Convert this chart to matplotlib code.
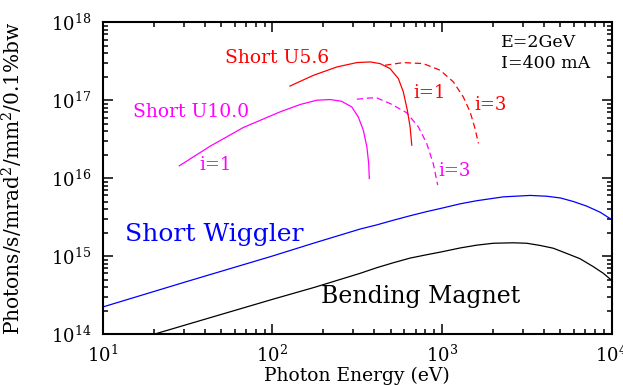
import matplotlib
matplotlib.use("Agg")
import matplotlib.pyplot as plt
from matplotlib.ticker import LogLocator, NullFormatter

plt.rcParams['font.family'] = ['DejaVu Serif']
plt.rcParams['mathtext.fontset'] = 'dejavuserif'

# bending magnet
bm_e = [20.3, 44.7, 100, 178, 329, 412, 516, 649, 813, 1000, 1279, 1603, 2009,
        2630, 3162, 3784, 4539, 5445, 6516, 7816, 8954, 10000]
bm_f = [1.0e14, 1.66e14, 2.78e14, 3.98e14, 6.0e14, 7.08e14, 8.2e14, 9.42e14, 1.04e15,
        1.135e15, 1.27e15, 1.38e15, 1.46e15, 1.48e15, 1.46e15, 1.37e15, 1.26e15,
        1.08e15, 9.25e14, 7.3e14, 6.0e14, 4.9e14]

# short wiggler
sw_e = [10, 31.6, 100, 178, 329, 412, 516, 649, 813, 1000, 1279, 1603, 2301, 3311,
        4150, 5012, 5957, 7145, 8551, 10000]
sw_f = [2.22e14, 4.74e14, 1.0e15, 1.48e15, 2.22e15, 2.51e15, 2.88e15, 3.29e15, 3.72e15,
        4.12e15, 4.68e15, 5.13e15, 5.75e15, 6.0e15, 5.86e15, 5.56e15, 5.01e15, 4.37e15,
        3.66e15, 2.95e15]

# short U10.0, harmonics 1 and 3
u10_1_e = [28.3, 43.0, 67.5, 111, 146, 183, 219, 256, 294, 321, 344, 361, 370, 373]
u10_1_f = [1.44e16, 2.57e16, 4.47e16, 7.08e16, 8.81e16, 1.0e17, 1.02e17, 9.70e16,
           8.20e16, 6.11e16, 4.12e16, 2.51e16, 1.54e16, 9.9e15]
u10_3_e = [315, 377, 413, 494, 619, 726, 813, 889, 944]
u10_3_f = [1.03e17, 1.07e17, 1.07e17, 9.08e16, 6.92e16, 4.55e16, 2.79e16, 1.54e16, 8.13e15]

# short U5.6, harmonics 1 and 3
u56_1_e = [127, 175, 240, 315, 377, 432, 494, 553, 592, 625, 649, 664]
u56_1_f = [1.52e17, 2.09e17, 2.67e17, 3.04e17, 3.10e17, 2.95e17, 2.55e17, 1.90e17,
           1.28e17, 7.45e16, 4.55e16, 2.65e16]
u56_3_e = [462, 592, 776, 975, 1167, 1337, 1466, 1567, 1641]
u56_3_f = [2.81e17, 3.04e17, 2.95e17, 2.43e17, 1.72e17, 1.10e17, 7.08e16, 4.34e16, 2.79e16]

fig = plt.figure(figsize=(6.23, 3.85), dpi=100)
ax = fig.add_axes([0.1649, 0.1325, 0.8167, 0.8096])

lw = 0.9
ax.plot(bm_e, bm_f, color='black', lw=lw)
ax.plot(sw_e, sw_f, color='#0000ff', lw=lw)
ax.plot(u10_1_e, u10_1_f, color='#ff00ff', lw=lw)
ax.plot(u10_3_e, u10_3_f, color='#ff00ff', lw=lw, dashes=(5, 3))
ax.plot(u56_1_e, u56_1_f, color='#ff0000', lw=lw)
ax.plot(u56_3_e, u56_3_f, color='#ff0000', lw=lw, dashes=(5, 3))

ax.set_xscale('log')
ax.set_yscale('log')
ax.set_xlim(10, 1e4)
ax.set_ylim(1e14, 1e18)

for axis in [ax.xaxis, ax.yaxis]:
    axis.set_major_locator(LogLocator(base=10, numticks=10))
    axis.set_minor_locator(LogLocator(base=10, subs=range(2, 10), numticks=10))
    axis.set_minor_formatter(NullFormatter())

ax.tick_params(which='both', direction='in', top=True, right=True, width=1.1)
ax.tick_params(which='major', length=7, labelsize=13)
ax.tick_params(which='minor', length=3.5)
ax.tick_params(axis='x', which='major', pad=8)
ax.tick_params(axis='y', which='major', pad=8)
for s in ax.spines.values():
    s.set_linewidth(1.5)

ax.set_xlabel('Photon Energy (eV)', fontsize=13.5, labelpad=0)
ax.set_ylabel('Photons/s/mrad$^2$/mm$^2$/0.1%bw', fontsize=14.5)
ax.yaxis.set_label_coords(-0.153, 0.5)

tr = ax.transAxes
ax.text(0.240, 0.885, 'Short U5.6', color='#ff0000', fontsize=13.5, transform=tr, va='center')
ax.text(0.060, 0.712, 'Short U10.0', color='#ff00ff', fontsize=13.5, transform=tr, va='center')
ax.text(0.189, 0.542, 'i=1', color='#ff00ff', fontsize=13, transform=tr, va='center')
ax.text(0.610, 0.773, 'i=1', color='#ff0000', fontsize=13, transform=tr, va='center')
ax.text(0.730, 0.735, 'i=3', color='#ff0000', fontsize=13, transform=tr, va='center')
ax.text(0.659, 0.523, 'i=3', color='#ff00ff', fontsize=13, transform=tr, va='center')
ax.text(0.783, 0.934, 'E=2GeV', color='black', fontsize=12.5, transform=tr, va='center')
ax.text(0.783, 0.869, 'I=400 mA', color='black', fontsize=12.5, transform=tr, va='center')
ax.text(0.044, 0.318, 'Short Wiggler', color='#0000ff', fontsize=18, transform=tr, va='center')
ax.text(0.429, 0.119, 'Bending Magnet', color='black', fontsize=17, transform=tr, va='center')

fig.savefig('out.png', dpi=100)
